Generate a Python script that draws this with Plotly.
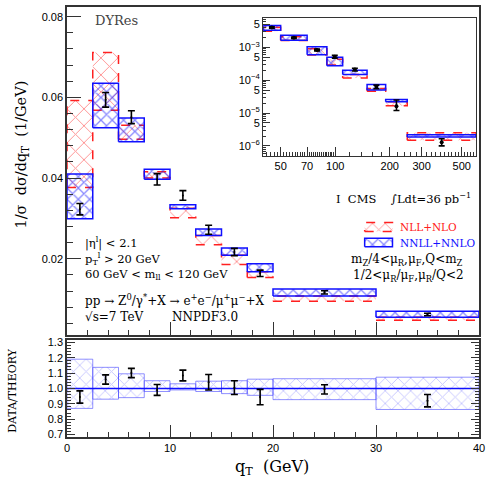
import math
import plotly.graph_objects as go

# main panel: qT bins (GeV)
edges = [0, 2.5, 5, 7.5, 10, 12.5, 15, 17.5, 20, 30, 40]
nnll_lo = [0.0299, 0.0525, 0.0490, 0.0397, 0.0324, 0.0258, 0.0209, 0.0168, 0.0108, 0.0055]
nnll_hi = [0.0410, 0.0635, 0.0549, 0.0422, 0.0334, 0.0274, 0.0227, 0.0188, 0.0125, 0.0070]
nll_lo = [0.0377, 0.0568, 0.0496, 0.0400, 0.0302, 0.0235, 0.0186, 0.0154, 0.0095, 0.0048]
nll_hi = [0.0592, 0.0711, 0.0531, 0.0416, 0.0325, 0.0258, 0.0209, 0.0168, 0.0108, 0.0055]
cms = [0.0323, 0.0594, 0.0551, 0.0397, 0.0357, 0.0272, 0.0217, 0.0164, 0.0117, 0.0062]
cms_err = [0.0014, 0.0018, 0.0016, 0.0014, 0.0012, 0.0011, 0.0009, 0.0008, 0.0004, 0.0003]

# inset: high qT bins
edges_in = [40, 50, 70, 90, 110, 150, 190, 250, 600]
nnll_in_lo = [3.3e-3, 1.65e-3, 5.9e-4, 2.75e-4, 1.48e-4, 5.0e-5, 2.2e-5, 1.87e-6]
nnll_in_hi = [4.6e-3, 2.34e-3, 1.05e-3, 5.0e-4, 2.0e-4, 7.4e-5, 2.6e-5, 2.2e-6]
nll_in_lo = [3.1e-3, 1.6e-3, 5.8e-4, 2.9e-4, 1.17e-4, 4.6e-5, 1.66e-5, 1.5e-6]
nll_in_hi = [4.1e-3, 2.1e-3, 9.0e-4, 4.3e-4, 1.5e-4, 5.6e-5, 2.2e-5, 2.5e-6]
cms_in = [4.0e-3, 1.95e-3, 8.3e-4, 5.2e-4, 2.1e-4, 6.3e-5, 1.6e-5, 1.3e-6]
cms_in_up = [0.2e-3, 0.1e-3, 0.5e-4, 0.5e-4, 0.2e-4, 0.8e-5, 0.9e-5, 0.35e-6]
cms_in_dn = [0.2e-3, 0.1e-3, 0.5e-4, 0.5e-4, 0.2e-4, 0.8e-5, 0.4e-5, 0.3e-6]

# ratio panel
ratio_lo = [0.87, 0.93, 0.94, 0.98, 0.99, 0.98, 0.966, 0.955, 0.927, 0.863]
ratio_hi = [1.19, 1.137, 1.095, 1.05, 1.03, 1.047, 1.05, 1.06, 1.063, 1.073]
ratio = [0.944, 1.058, 1.10, 0.99, 1.084, 1.04, 1.005, 0.944, 0.994, 0.92]
ratio_err = [0.04, 0.03, 0.03, 0.035, 0.035, 0.05, 0.045, 0.05, 0.03, 0.04]
ratio_ref = 1.0

RED = "#ff2020"
BLUE = "#1010ff"
SERIF = "DejaVu Serif"
SANS = "Liberation Sans"


def boxes(ed, lo, hi):
    xs, ys = [], []
    for i in range(len(lo)):
        xs += [ed[i], ed[i + 1], ed[i + 1], ed[i], ed[i], None]
        ys += [lo[i], lo[i], hi[i], hi[i], lo[i], None]
    return xs, ys


def band(ed, lo, hi, color, dash, xa, ya, lw=1.5, psize=9, sol=0.15):
    xs, ys = boxes(ed, lo, hi)
    return go.Scatter(x=xs, y=ys, mode="lines", fill="toself",
                      fillcolor="rgba(0,0,0,0)",
                      fillpattern=dict(shape="x", fgcolor=color, bgcolor="rgba(0,0,0,0)",
                                       size=psize, solidity=sol),
                      line=dict(color=color, width=lw, dash=dash),
                      xaxis=xa, yaxis=ya, showlegend=False, hoverinfo="skip")


def centers(ed):
    return [(ed[i] + ed[i + 1]) / 2 for i in range(len(ed) - 1)]


def gcenters(ed):
    return [math.sqrt(ed[i] * ed[i + 1]) for i in range(len(ed) - 1)]


fig = go.Figure()

# main panel
fig.add_trace(band(edges, nll_lo, nll_hi, RED, "dash", "x", "y", psize=12, sol=0.15))
fig.add_trace(band(edges, nnll_lo, nnll_hi, BLUE, "solid", "x", "y", psize=8, sol=0.3))
fig.add_trace(go.Scatter(x=centers(edges), y=cms, mode="markers",
                         marker=dict(color="black", size=2),
                         error_y=dict(type="data", array=cms_err, color="black", thickness=1.6, width=3.5),
                         xaxis="x", yaxis="y", showlegend=False))

# inset
fig.add_trace(band(edges_in, nll_in_lo, nll_in_hi, RED, "dash", "x3", "y3", psize=9, sol=0.18))
fig.add_trace(band(edges_in, nnll_in_lo, nnll_in_hi, BLUE, "solid", "x3", "y3", psize=8, sol=0.3))
fig.add_trace(go.Scatter(x=gcenters(edges_in), y=cms_in, mode="markers",
                         marker=dict(color="black", size=4),
                         error_y=dict(type="data", array=cms_in_up, arrayminus=cms_in_dn,
                                      color="black", thickness=1.6, width=3),
                         xaxis="x3", yaxis="y3", showlegend=False))

# ratio panel
fig.add_trace(band(edges, ratio_lo, ratio_hi, "rgba(70,70,255,0.6)", "solid", "x2", "y2",
                   lw=1, psize=9, sol=0.2))
fig.add_trace(go.Scatter(x=[edges[0], edges[-1]], y=[ratio_ref, ratio_ref], mode="lines",
                         line=dict(color=BLUE, width=1.5), xaxis="x2", yaxis="y2",
                         showlegend=False, hoverinfo="skip"))
fig.add_trace(go.Scatter(x=centers(edges), y=ratio, mode="markers",
                         marker=dict(color="black", size=2),
                         error_y=dict(type="data", array=ratio_err, color="black", thickness=1.6, width=3.5),
                         xaxis="x2", yaxis="y2", showlegend=False))

# legend boxes (patterned, like the bands)
fig.add_trace(band([28.9, 31.6], [0.0268], [0.0290], RED, "dash", "x", "y", psize=9, sol=0.18))
fig.add_trace(band([28.9, 31.6], [0.0230], [0.0251], BLUE, "solid", "x", "y", psize=8, sol=0.3))

axcol = "#333333"
tickfont = dict(family=SANS, size=11, color="black")

fig.update_layout(
    width=489, height=481,
    margin=dict(l=67, r=10, t=3, b=44),
    paper_bgcolor="white", plot_bgcolor="white",
    showlegend=False,
    xaxis=dict(domain=[0, 1], range=[0, 40], anchor="y", showticklabels=False,
               showline=True, mirror=True, linecolor=axcol, linewidth=1.5,
               ticks="inside", tickvals=[10, 20, 30], ticklen=13, tickcolor=axcol, tickwidth=1.2,
               minor=dict(dtick=2, ticks="inside", ticklen=5, tickcolor=axcol),
               showgrid=False, zeroline=False),
    yaxis=dict(domain=[0.237, 1], range=[0.0011, 0.0824], anchor="x",
               showline=True, mirror=True, linecolor=axcol, linewidth=1.5,
               ticks="inside", tickvals=[0.02, 0.04, 0.06, 0.08], ticktext=["0.02", "0.04", "0.06", "0.08"],
               ticklen=14, tickcolor=axcol, tickwidth=1.2, tickfont=tickfont,
               minor=dict(dtick=0.004, tick0=0, ticks="inside", ticklen=6, tickcolor=axcol),
               showgrid=False, zeroline=False),
    xaxis2=dict(domain=[0, 1], range=[0, 40], anchor="y2",
                showline=True, mirror=True, linecolor=axcol, linewidth=1.5,
                ticks="inside", tickvals=[0, 10, 20, 30, 40], ticklen=12, tickcolor=axcol, tickwidth=1.2,
                tickfont=tickfont,
                minor=dict(dtick=2, ticks="inside", ticklen=5, tickcolor=axcol),
                showgrid=False, zeroline=False),
    yaxis2=dict(domain=[0, 0.226], range=[0.684, 1.316], anchor="x2",
                showline=True, mirror="ticks", linecolor=axcol, linewidth=1.5,
                ticks="inside", tickvals=[0.7, 0.8, 0.9, 1.0, 1.1, 1.2, 1.3],
                ticktext=["0.7", "0.8", "0.9", "1.0", "1.1", "1.2", "1.3"],
                ticklen=8, tickcolor=axcol, tickwidth=1.2, tickfont=tickfont,
                minor=dict(dtick=0.02, tick0=0, ticks="inside", ticklen=4, tickcolor=axcol),
                showgrid=False, zeroline=False),
    xaxis3=dict(domain=[0.476, 0.993], type="log", range=[math.log10(40), math.log10(600)], anchor="y3",
                showline=True, mirror=True, linecolor=axcol, linewidth=1.3,
                ticks="inside", tickvals=[50, 60, 70, 80, 90, 100, 200, 300, 400, 500, 600],
                ticktext=["50", "", "70", "", "", "100", "200", "300", "", "500", ""],
                ticklen=9, tickcolor=axcol, tickfont=tickfont,
                minor=dict(tickvals=list(range(42, 100, 2)) + list(range(120, 600, 20)),
                           ticks="inside", ticklen=4, tickcolor=axcol),
                showgrid=False, zeroline=False),
    yaxis3=dict(domain=[0.654, 0.975], type="log", range=[-6.3, -2.1], anchor="x3",
                showline=True, mirror=True, linecolor=axcol, linewidth=1.3,
                ticks="inside",
                tickvals=[5e-7, 1e-6, 5e-6, 1e-5, 5e-5, 1e-4, 5e-4, 1e-3, 5e-3],
                ticktext=["5", "10<sup>−6</sup>", "5", "10<sup>−5</sup>", "5", "10<sup>−4</sup>",
                          "5", "10<sup>−3</sup>", "5"],
                ticklen=7, tickcolor=axcol, tickfont=tickfont,
                minor=dict(dtick="D1", ticks="inside", ticklen=3, tickcolor=axcol),
                showgrid=False, zeroline=False),
)


def note(x, y, text, size=11, color="black", xref="x", yref="y", xanchor="left", angle=0, family=SERIF):
    fig.add_annotation(x=x, y=y, xref=xref, yref=yref, text=text, showarrow=False,
                       xanchor=xanchor, yanchor="middle", textangle=angle,
                       font=dict(family=family, size=size, color=color))


note(2.5, 0.0790, "DYRes", size=13, color="#444444")
note(1.55, 0.0239, "|η<sup>l</sup>| < 2.1", size=11.5)
note(1.55, 0.0200, "p<sub>T</sub><sup>l</sup> > 20 GeV", size=11.5)
note(1.55, 0.0161, "60 GeV < m<sub>ll</sub> < 120 GeV", size=11.5)
note(1.55, 0.0099, "pp → Z<sup>0</sup>/γ<sup>*</sup>+X → e<sup>+</sup>e<sup>−</sup>/μ<sup>+</sup>μ<sup>−</sup>+X", size=12)
note(1.55, 0.0055, "√s=7 TeV", size=12)
note(10.0, 0.0055, "NNPDF3.0", size=12)
note(25.9, 0.0350, "I  CMS    ∫Ldt=36 pb<sup>−1</sup>", size=11.5)
note(32.1, 0.0279, "NLL+NLO", size=10.5, color=RED)
note(32.1, 0.0240, "NNLL+NNLO", size=10.5, color=BLUE)
note(27.4, 0.0198, "m<sub>Z</sub>/4<μ<sub>R</sub>,μ<sub>F</sub>,Q<m<sub>Z</sub>", size=12)
note(27.6, 0.0158, "1/2<μ<sub>R</sub>/μ<sub>F</sub>,μ<sub>R</sub>/Q<2", size=12)

note(-0.109, 0.657, "1/σ  dσ/dq<sub>T</sub>  (1/GeV)", size=14.5, xref="paper", yref="paper",
     xanchor="center", angle=-90)
note(-0.133, 0.108, "DATA/THEORY", size=11, xref="paper", yref="paper", xanchor="center", angle=-90)
note(0.4976, -0.071, "q<sub>T</sub>  (GeV)", size=16, xref="paper", yref="paper", xanchor="center")

fig.write_html("out.html", config={"displayModeBar": False},
               post_script="document.body.style.margin='0';")
